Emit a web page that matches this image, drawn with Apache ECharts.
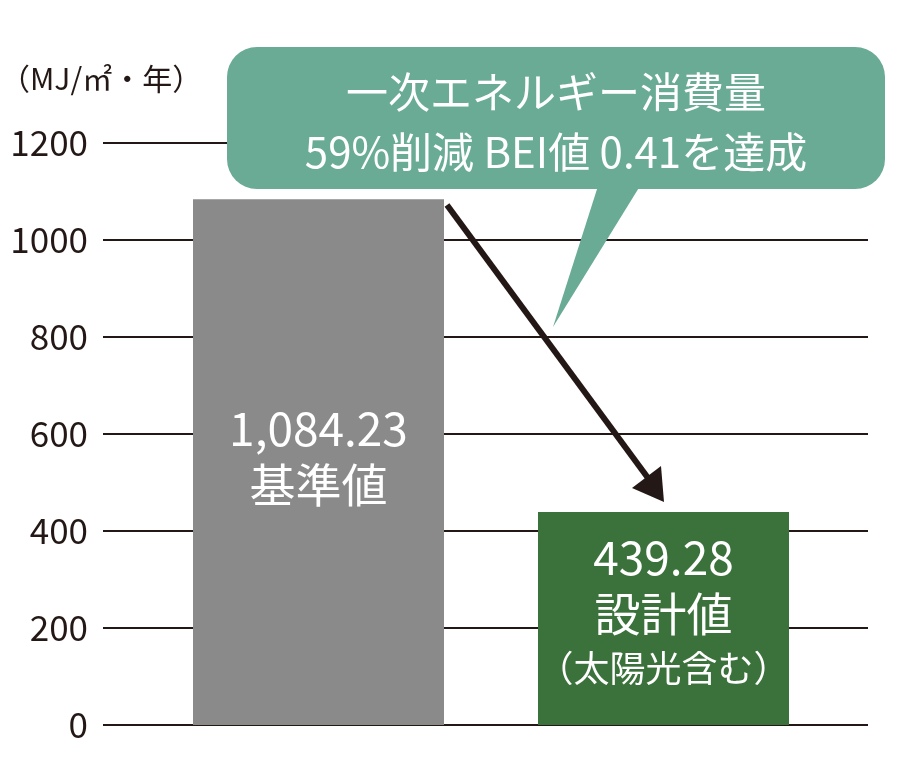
<!DOCTYPE html>
<html style="height: 100%">
<head>
    <meta charset="utf-8">
</head>
<body style="height: 100%; margin: 0; background: #fff">
    <div id="container" style="width: 900px; height: 762px"></div>
    <script src="https://cdn.jsdelivr.net/npm/echarts@6/dist/echarts.min.js"></script>
    <script type="text/javascript">
        // data
        var barNames = ['基準値', '設計値'];
        var barValues = [1084.23, 439.28];
        var barNotes = ['', '（太陽光含む）'];
        var yTicks = [0, 200, 400, 600, 800, 1000, 1200];
        var unitText = '（MJ/㎡・年）';
        var calloutLines = ['一次エネルギー消費量', '59%削減 BEI値 0.41を達成'];

        var font = '"Noto Sans CJK JP", "Noto Sans", sans-serif';
        var barColors = ['#8a8a8a', '#3b713a'];
        var ink = '#231815';

        var dom = document.getElementById('container');
        var myChart = echarts.init(dom);

        function fmt(v) {
            return v.toLocaleString('en-US', { minimumFractionDigits: 2, maximumFractionDigits: 2 });
        }

        var series = barValues.map(function (v, i) {
            return {
                type: 'bar',
                name: barNames[i],
                xAxisIndex: 1,
                yAxisIndex: 1,
                barWidth: 251,
                barGap: '37.45%',
                z: 2,
                itemStyle: { color: barColors[i] },
                label: {
                    show: true,
                    position: 'inside',
                    offset: [0, -6],
                    fontFamily: font,
                    color: '#fff',
                    formatter: function () {
                        var s = '{v|' + fmt(v) + '}\n{n|' + barNames[i] + '}';
                        if (barNotes[i]) s += '\n{s|' + barNotes[i] + '}';
                        return s;
                    },
                    rich: {
                        v: { fontSize: 46, lineHeight: 56, color: '#fff', fontFamily: font },
                        n: { fontSize: 46, lineHeight: 56, color: '#fff', fontFamily: font },
                        s: { fontSize: 36, lineHeight: 54, color: '#fff', fontFamily: font }
                    }
                },
                data: [v]
            };
        });

        var yMin = yTicks[0];
        var yMax = yTicks[yTicks.length - 1];
        var yStep = yTicks[1] - yTicks[0];

        var option = {
            backgroundColor: '#fff',
            animation: false,
            grid: [
                { left: 103, right: 32, top: 143, bottom: 37 },
                { left: 109, right: 27, top: 143, bottom: 37 }
            ],
            xAxis: [
                {
                    type: 'category',
                    gridIndex: 0,
                    data: [''],
                    axisLine: { show: false },
                    axisTick: { show: false },
                    axisLabel: { show: false }
                },
                {
                    type: 'category',
                    gridIndex: 1,
                    data: [''],
                    axisLine: { show: false },
                    axisTick: { show: false },
                    axisLabel: { show: false }
                }
            ],
            yAxis: [
                {
                    type: 'value',
                    gridIndex: 0,
                    min: yMin,
                    max: yMax,
                    interval: yStep,
                    axisLine: { show: false },
                    axisTick: { show: false },
                    axisLabel: {
                        margin: 15,
                        fontSize: 35,
                        color: ink,
                        fontFamily: font,
                        formatter: function (v) { return String(v); }
                    },
                    splitLine: {
                        lineStyle: { color: ink, width: 2 }
                    }
                },
                {
                    type: 'value',
                    gridIndex: 1,
                    min: yMin,
                    max: yMax,
                    interval: yStep,
                    show: false,
                    splitLine: { show: false }
                }
            ],
            graphic: [
                {
                    type: 'text',
                    left: 0,
                    top: 64,
                    style: {
                        text: unitText,
                        fontSize: 30,
                        fill: ink,
                        fontFamily: font
                    }
                },
                {
                    type: 'line',
                    z: 10,
                    shape: { x1: 447, y1: 205, x2: 648, y2: 478 },
                    style: { stroke: ink, lineWidth: 6 }
                },
                {
                    type: 'polygon',
                    z: 10,
                    shape: { points: [[632, 488], [661, 466], [664, 502]] },
                    style: { fill: ink }
                },
                {
                    type: 'polygon',
                    z: 11,
                    shape: { points: [[598, 186], [640, 186], [553, 327]] },
                    style: { fill: '#69ab94' }
                },
                {
                    type: 'rect',
                    z: 11,
                    shape: { x: 227, y: 47, width: 658, height: 142, r: 30 },
                    style: { fill: '#69ab94' }
                },
                {
                    type: 'text',
                    z: 12,
                    x: 556,
                    y: 122,
                    style: {
                        text: calloutLines.join('\n'),
                        fontSize: 42,
                        lineHeight: 60,
                        fill: '#fff',
                        fontFamily: font,
                        align: 'center',
                        verticalAlign: 'middle'
                    }
                }
            ],
            series: series
        };

        myChart.setOption(option, true);
    </script>
</body>
</html>
